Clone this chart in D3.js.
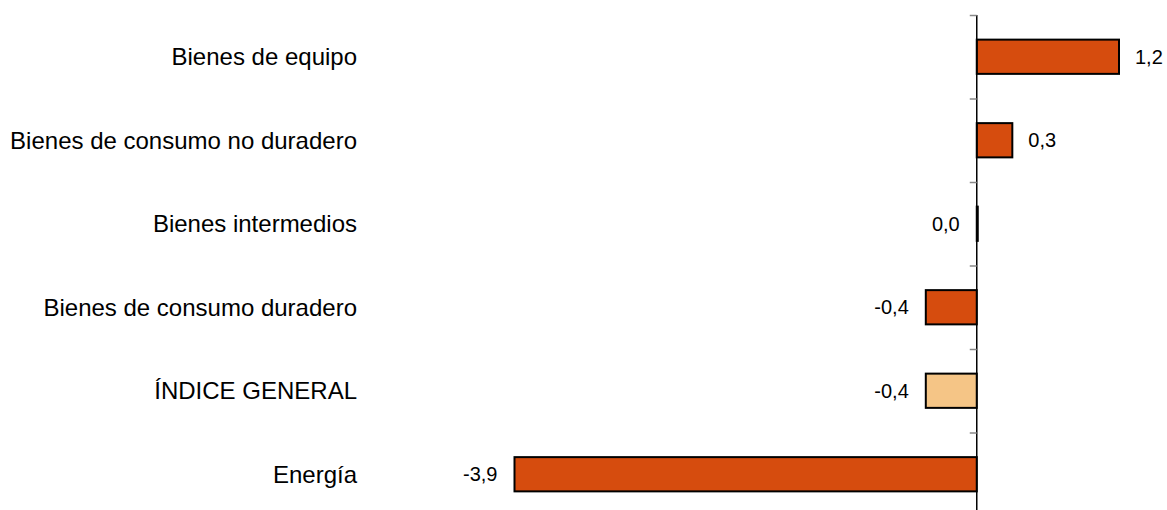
<!DOCTYPE html>
<html>
<head>
<meta charset="utf-8">
<script src="https://cdn.jsdelivr.net/npm/d3@7"></script>
<style>
  body { margin: 0; background: #fff; }
  svg { display: block; }
  text { font-family: "Liberation Sans", Arial, sans-serif; fill: #000; }
</style>
</head>
<body>
<div id="chart"></div>
<script>
const categories = ["Bienes de equipo", "Bienes de consumo no duradero", "Bienes intermedios",
                    "Bienes de consumo duradero", "ÍNDICE GENERAL", "Energía"];
const values = [1.2, 0.3, 0.0, -0.43, -0.43, -3.9];
const highlight = ["ÍNDICE GENERAL"];

const width = 1167, height = 510;
const orange = "#d64c0e", light = "#f5c586";

const svg = d3.select("#chart").append("svg")
    .attr("width", width).attr("height", height);

const x = d3.scaleLinear().domain([-3.9, 1.2]).range([514.5, 1119]);
const y = d3.scaleBand().domain(categories).range([15, 516])
    .paddingInner(0.59).paddingOuter(0.295);

const fmt = v => d3.format(".1f")(v).replace(".", ",").replace("−", "-");

// bars
svg.selectAll(".bar")
    .data(categories)
    .join("rect")
    .attr("class", "bar")
    .attr("x", (d, i) => Math.min(x(0), x(values[i])))
    .attr("width", (d, i) => Math.max(1, Math.abs(x(values[i]) - x(0))))
    .attr("y", d => y(d))
    .attr("height", y.bandwidth())
    .attr("fill", d => highlight.includes(d) ? light : orange)
    .attr("stroke", "#000")
    .attr("stroke-width", 2);

// axis at zero (ticks at band boundaries)
const idx = d3.scaleLinear().domain([0, 6]).range([y.range()[0], y.range()[1]]);
const axis = svg.append("g")
    .attr("transform", `translate(${x(0)},0)`)
    .call(d3.axisLeft(idx).ticks(6).tickSize(7).tickFormat(""));
axis.select(".domain").attr("stroke", "#000").attr("stroke-width", 1.5)
    .attr("d", `M0,${idx(0)}V${height + 10}`);
axis.selectAll(".tick line").attr("stroke", "#888").attr("stroke-width", 1.5);

// category labels
svg.selectAll(".cat")
    .data(categories)
    .join("text")
    .attr("class", "cat")
    .attr("x", 357)
    .attr("y", d => y(d) + y.bandwidth() / 2)
    .attr("dy", "0.36em")
    .attr("text-anchor", "end")
    .style("font-size", "24px")
    .text(d => d);

// value labels
svg.selectAll(".val")
    .data(categories)
    .join("text")
    .attr("class", "val")
    .attr("x", (d, i) => values[i] > 0 ? x(values[i]) + 16 : Math.min(x(0), x(values[i])) - 17)
    .attr("y", d => y(d) + y.bandwidth() / 2)
    .attr("dy", "0.36em")
    .attr("text-anchor", (d, i) => values[i] > 0 ? "start" : "end")
    .style("font-size", "20px")
    .text((d, i) => fmt(values[i]));
</script>
</body>
</html>
